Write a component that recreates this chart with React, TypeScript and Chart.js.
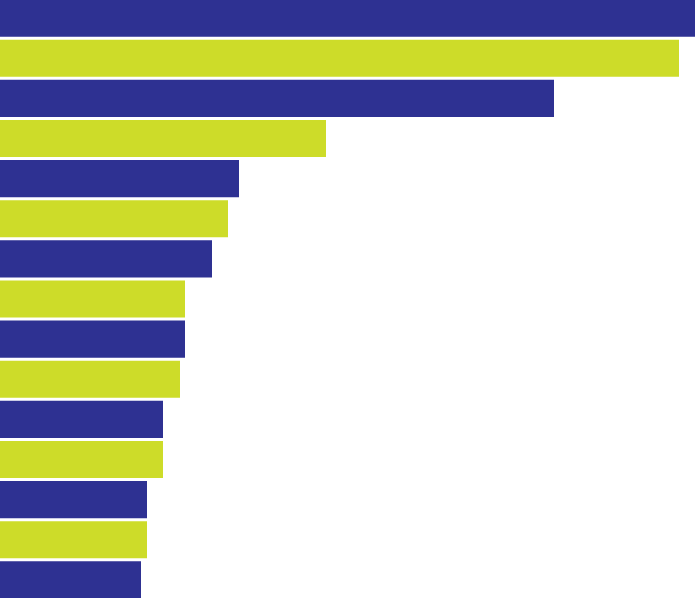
import React, { useEffect, useRef } from "react";
import { Chart, registerables } from "chart.js";

Chart.register(...registerables);

const categories = [
  "1", "2", "3", "4", "5", "6", "7", "8", "9", "10", "11", "12", "13", "14", "15",
];
const values = [700, 679, 554, 326, 239, 228, 212, 185, 185, 180, 163, 163, 147, 147, 141];
const axisMax = 695;
const BLUE = "#2E3192";
const LIME = "#CDDC29";
const barColors = categories.map((_, i) => (i % 2 === 0 ? BLUE : LIME));

export default function App() {
  const ref = useRef<HTMLCanvasElement | null>(null);

  useEffect(() => {
    if (!ref.current) return;
    const chart = new Chart(ref.current, {
      type: "bar",
      data: {
        labels: categories,
        datasets: [
          {
            data: values,
            backgroundColor: barColors,
            borderWidth: 0,
            barPercentage: 0.925,
            categoryPercentage: 1,
          },
        ],
      },
      options: {
        indexAxis: "y",
        responsive: false,
        animation: false,
        layout: { padding: 0 },
        plugins: { legend: { display: false }, tooltip: { enabled: false } },
        scales: {
          x: { display: false, min: 0, max: axisMax },
          y: { display: false },
        },
      },
    });
    return () => chart.destroy();
  }, []);

  return (
    <div style={{ position: "fixed", left: 0, top: -2, width: 695, height: 602, background: "#fff" }}>
      <canvas ref={ref} width={695} height={602} style={{ display: "block" }} />
    </div>
  );
}
